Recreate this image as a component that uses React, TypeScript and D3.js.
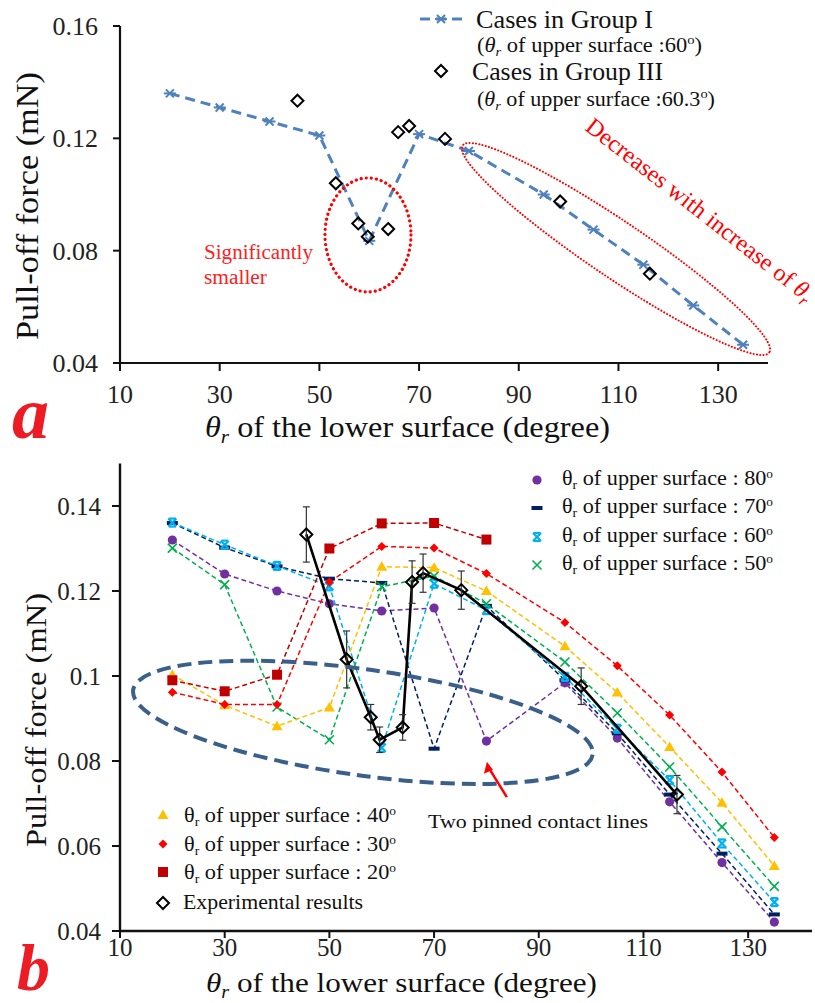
import React from "react";
import * as d3 from "d3";

const FONT = "'Liberation Serif', 'Times New Roman', serif";

// ---------- Panel a data ----------
const lowerAnglesA = [20, 30, 40, 50, 60, 70, 80, 95, 105, 115, 125, 135];
const groupI = [0.136, 0.131, 0.126, 0.121, 0.0835, 0.1215, 0.1155, 0.1, 0.0875, 0.075, 0.0605, 0.0465];
const groupIIIAngles = [45.6, 53.3, 57.8, 59.7, 63.8, 65.8, 68, 75.2, 98.3, 116.3];
const groupIIIForce = [0.1334, 0.104, 0.0897, 0.085, 0.0877, 0.1222, 0.1244, 0.1198, 0.0975, 0.0718];
const yTicksA = [0.04, 0.08, 0.12, 0.16];
const xTicks = [10, 30, 50, 70, 90, 110, 130];

// ---------- Panel b data ----------
const lowerAnglesB = [20, 30, 40, 50, 60, 70, 80, 95, 105, 115, 125, 135];
const upper80 = [0.132, 0.124, 0.12, 0.117, 0.1153, 0.116, 0.0847, 0.0984, 0.0854, 0.0704, 0.0561, 0.0421];
const upper70 = [0.136, 0.1302, 0.1258, 0.1229, 0.1219, 0.0829, 0.1165, 0.099, 0.0865, 0.0721, 0.0582, 0.0439];
const upper60 = [0.1361, 0.1309, 0.1259, 0.1211, 0.0831, 0.1217, 0.1155, 0.0998, 0.0876, 0.0755, 0.0606, 0.0468];
const upper50 = [0.1301, 0.1215, 0.0927, 0.085, 0.121, 0.1235, 0.117, 0.1033, 0.0913, 0.0786, 0.0645, 0.0505];
const upper40 = [0.1003, 0.0931, 0.0882, 0.0926, 0.1257, 0.1255, 0.12, 0.107, 0.0961, 0.0833, 0.0702, 0.0553];
const upper30 = [0.0962, 0.0933, 0.0933, 0.1221, 0.1305, 0.1301, 0.1241, 0.1126, 0.1024, 0.0908, 0.0774, 0.062];
const upper20Angles = [20, 30, 40, 50, 60, 70, 80];
const upper20 = [0.099, 0.0964, 0.1003, 0.13, 0.1359, 0.136, 0.1321];
const expAngles = [45.6, 53.3, 57.9, 59.6, 64, 65.8, 67.9, 75.2, 98.1, 116.4];
const expForce = [0.1333, 0.1039, 0.0903, 0.085, 0.0879, 0.1221, 0.1242, 0.1202, 0.0976, 0.0721];
const expError = [0.0065, 0.0067, 0.003, 0.003, 0.003, 0.005, 0.0045, 0.0045, 0.0043, 0.0045];
const yTicksB = [0.04, 0.06, 0.08, 0.1, 0.12, 0.14];
const yTickLabelsB = ["0.04", "0.06", "0.08", "0.1", "0.12", "0.14"];

const seriesB = [
  { name: "80", values: upper80, angles: lowerAnglesB, color: "#7030A0", shape: "circle" },
  { name: "70", values: upper70, angles: lowerAnglesB, color: "#002060", shape: "dash" },
  { name: "60", values: upper60, angles: lowerAnglesB, color: "#00B0F0", shape: "star" },
  { name: "50", values: upper50, angles: lowerAnglesB, color: "#00B050", shape: "x" },
  { name: "40", values: upper40, angles: lowerAnglesB, color: "#FFC000", shape: "triangle" },
  { name: "30", values: upper30, angles: lowerAnglesB, color: "#FF0000", shape: "diamond" },
  { name: "20", values: upper20, angles: upper20Angles, color: "#C00000", shape: "square" },
];

// ---------- scales ----------
const xA = d3.scaleLinear().domain([10, 140]).range([120, 768]);
const yA = d3.scaleLinear().domain([0.04, 0.16]).range([363, 26]);
const xB = d3.scaleLinear().domain([10, 140]).range([120, 800.5]);
const yB = d3.scaleLinear().domain([0.04, 0.15]).range([931, 463.5]);

function Marker({ shape, cx, cy, color }: any) {
  switch (shape) {
    case "circle":
      return <circle cx={cx} cy={cy} r={4.6} fill={color} />;
    case "dash":
      return <rect x={cx - 5.5} y={cy - 2} width={11} height={4} fill={color} />;
    case "star":
      return (
        <g stroke={color} strokeWidth={2.2}>
          <line x1={cx - 4} y1={cy - 4} x2={cx + 4} y2={cy + 4} />
          <line x1={cx - 4} y1={cy + 4} x2={cx + 4} y2={cy - 4} />
          <line x1={cx - 3.5} y1={cy - 4} x2={cx + 3.5} y2={cy - 4} />
          <line x1={cx - 3.5} y1={cy + 4} x2={cx + 3.5} y2={cy + 4} />
        </g>
      );
    case "x":
      return (
        <g stroke={color} strokeWidth={1.6}>
          <line x1={cx - 4.5} y1={cy - 4.5} x2={cx + 4.5} y2={cy + 4.5} />
          <line x1={cx - 4.5} y1={cy + 4.5} x2={cx + 4.5} y2={cy - 4.5} />
        </g>
      );
    case "triangle":
      return <path d={`M${cx},${cy - 5.5}L${cx + 5.5},${cy + 4}L${cx - 5.5},${cy + 4}Z`} fill={color} />;
    case "diamond":
      return <path d={`M${cx},${cy - 4.5}L${cx + 4.5},${cy}L${cx},${cy + 4.5}L${cx - 4.5},${cy}Z`} fill={color} />;
    case "square":
      return <rect x={cx - 5} y={cy - 5} width={10} height={10} fill={color} />;
    case "open":
      return (
        <path
          d={`M${cx},${cy - 6}L${cx + 6},${cy}L${cx},${cy + 6}L${cx - 6},${cy}Z`}
          fill="none"
          stroke="#000"
          strokeWidth={2}
        />
      );
    case "groupI":
      return (
        <g stroke={color} strokeWidth={2}>
          <line x1={cx - 4} y1={cy - 4} x2={cx + 4} y2={cy + 4} />
          <line x1={cx - 4} y1={cy + 4} x2={cx + 4} y2={cy - 4} />
          <line x1={cx - 6} y1={cy} x2={cx + 6} y2={cy} />
        </g>
      );
    default:
      return null;
  }
}

function UpperLabel({ x, y, size, value, width }: any) {
  return (
    <text x={x} y={y} fontFamily={FONT} fontSize={size} fill="#111" textLength={width} lengthAdjust="spacingAndGlyphs">
      <tspan>θ</tspan>
      <tspan fontSize={size * 0.62} dy={size * 0.2}>r</tspan>
      <tspan dy={-size * 0.2}>{` of upper surface : ${value}`}</tspan>
      <tspan fontSize={size * 0.6} dy={-size * 0.35}>o</tspan>
    </text>
  );
}

export default function App() {
  const lineA = d3
    .line<number>()
    .x((_, i) => xA(lowerAnglesA[i]))
    .y((d) => yA(d));
  const expLine = d3
    .line<number>()
    .x((_, i) => xB(expAngles[i]))
    .y((d) => yB(d));

  return (
    <svg
      width={815}
      height={1003}
      style={{ position: "absolute", left: 0, top: 0, background: "#fff" }}
      fontFamily={FONT}
    >
      {/* ================= Panel a ================= */}
      <g>
        <line x1={120} y1={yA(0.16)} x2={120} y2={yA(0.04) + 1} stroke="#111" strokeWidth={2.2} />
        <line x1={119} y1={yA(0.04)} x2={xA(140)} y2={yA(0.04)} stroke="#111" strokeWidth={2.2} />
        {yTicksA.map((t) => (
          <g key={t}>
            <line x1={113} x2={120} y1={yA(t)} y2={yA(t)} stroke="#111" strokeWidth={2} />
            <text x={98} y={yA(t)} dy="0.35em" textAnchor="end" fontSize={26} fill="#222">
              {t.toFixed(2)}
            </text>
          </g>
        ))}
        {xTicks.map((t) => (
          <g key={t}>
            <line x1={xA(t)} x2={xA(t)} y1={yA(0.04)} y2={yA(0.04) + 8} stroke="#111" strokeWidth={2} />
            <text x={xA(t)} y={403} textAnchor="middle" fontSize={26} fill="#222">
              {t}
            </text>
          </g>
        ))}
        <text
          transform={`translate(38,206) rotate(-90)`}
          textAnchor="middle"
          fontSize={31}
          fill="#111"
          textLength={268}
          lengthAdjust="spacingAndGlyphs"
        >
          Pull-off force (mN)
        </text>
        <text x={205} y={437} fontSize={29} fill="#111" textLength={405} lengthAdjust="spacingAndGlyphs">
          <tspan fontStyle="italic">θ</tspan>
          <tspan fontStyle="italic" fontSize={19} dy={6}>r</tspan>
          <tspan dy={-6}> of the lower surface (degree)</tspan>
        </text>
        <text x={12} y={438} fontSize={74} fontWeight="bold" fontStyle="italic" fill="#ED1C24">
          a
        </text>

        <path
          d={lineA(groupI) || ""}
          fill="none"
          stroke="#4F81BD"
          strokeWidth={3}
          strokeDasharray="10,6"
        />
        {groupI.map((v, i) => (
          <Marker key={i} shape="groupI" cx={xA(lowerAnglesA[i])} cy={yA(v)} color="#4F81BD" />
        ))}
        {groupIIIForce.map((v, i) => (
          <Marker key={i} shape="open" cx={xA(groupIIIAngles[i])} cy={yA(v)} />
        ))}

        <ellipse
          cx={xA(59.75)}
          cy={yA(0.0856)}
          rx={43}
          ry={57}
          fill="none"
          stroke="#FF0000"
          strokeWidth={3.2}
          strokeDasharray="0.1,5"
          strokeLinecap="round"
        />
        <text x={204} y={259} fontSize={20} fill="#FF2020" textLength={109} lengthAdjust="spacingAndGlyphs">
          Significantly
        </text>
        <text x={204} y={284} fontSize={20} fill="#FF2020" textLength={63} lengthAdjust="spacingAndGlyphs">
          smaller
        </text>
        <ellipse
          cx={0}
          cy={0}
          rx={185}
          ry={28}
          transform={`translate(${xA(109.5)},${yA(0.0806)}) rotate(34)`}
          fill="none"
          stroke="#FF0000"
          strokeWidth={2}
          strokeDasharray="0.1,3.2"
          strokeLinecap="round"
        />
        <text
          transform="translate(695,216) rotate(38)"
          textAnchor="middle"
          fontSize={24}
          fill="#FF0000"
          textLength={282}
          lengthAdjust="spacingAndGlyphs"
        >
          <tspan>Decreases with increase of </tspan>
          <tspan fontStyle="italic">θ</tspan>
          <tspan fontStyle="italic" fontSize={16} dy={5}>r</tspan>
        </text>

        {/* legend a */}
        <line x1={420} x2={462} y1={19} y2={19} stroke="#4F81BD" strokeWidth={3} strokeDasharray="10,6" />
        <Marker shape="groupI" cx={441} cy={19} color="#4F81BD" />
        <text x={476} y={28} fontSize={26} fill="#111" textLength={177} lengthAdjust="spacingAndGlyphs">
          Cases in Group I
        </text>
        <text x={477} y={52} fontSize={20} fill="#111" textLength={225} lengthAdjust="spacingAndGlyphs">
          <tspan>(</tspan>
          <tspan fontStyle="italic">θ</tspan>
          <tspan fontStyle="italic" fontSize={13} dy={4}>r</tspan>
          <tspan dy={-4}> of upper surface :60</tspan>
          <tspan fontSize={13} dy={-8}>o</tspan>
          <tspan dy={8}>)</tspan>
        </text>
        <Marker shape="open" cx={441} cy={71} />
        <text x={472} y={80} fontSize={26} fill="#111" textLength={191} lengthAdjust="spacingAndGlyphs">
          Cases in Group III
        </text>
        <text x={477} y={106} fontSize={20} fill="#111" textLength={238} lengthAdjust="spacingAndGlyphs">
          <tspan>(</tspan>
          <tspan fontStyle="italic">θ</tspan>
          <tspan fontStyle="italic" fontSize={13} dy={4}>r</tspan>
          <tspan dy={-4}> of upper surface :60.3</tspan>
          <tspan fontSize={13} dy={-8}>o</tspan>
          <tspan dy={8}>)</tspan>
        </text>
      </g>

      {/* ================= Panel b ================= */}
      <g>
        <line x1={120} y1={yB(0.15)} x2={120} y2={yB(0.04) + 1} stroke="#111" strokeWidth={2.4} />
        <line x1={119} y1={yB(0.04)} x2={812} y2={yB(0.04)} stroke="#111" strokeWidth={2.4} />
        {yTicksB.map((t, i) => (
          <g key={t}>
            <line x1={112} x2={120} y1={yB(t)} y2={yB(t)} stroke="#111" strokeWidth={2} />
            <text x={101} y={yB(t)} dy="0.35em" textAnchor="end" fontSize={25} fill="#222">
              {yTickLabelsB[i]}
            </text>
          </g>
        ))}
        {xTicks.map((t) => (
          <g key={t}>
            <line x1={xB(t)} x2={xB(t)} y1={yB(0.04)} y2={yB(0.04) + 7} stroke="#111" strokeWidth={2} />
            <text x={xB(t)} y={956} textAnchor="middle" fontSize={25} fill="#222">
              {t}
            </text>
          </g>
        ))}
        <text
          transform={`translate(46,720) rotate(-90)`}
          textAnchor="middle"
          fontSize={30}
          fill="#111"
          textLength={254}
          lengthAdjust="spacingAndGlyphs"
        >
          Pull-off force (mN)
        </text>
        <text x={206} y={992} fontSize={28} fill="#111" textLength={391} lengthAdjust="spacingAndGlyphs">
          <tspan fontStyle="italic">θ</tspan>
          <tspan fontStyle="italic" fontSize={18} dy={6}>r</tspan>
          <tspan dy={-6}> of the lower surface (degree)</tspan>
        </text>
        <text x={17} y={990} fontSize={66} fontWeight="bold" fontStyle="italic" fill="#ED1C24">
          b
        </text>

        {seriesB.map((s) => {
          const gen = d3
            .line<number>()
            .x((_, i) => xB(s.angles[i]))
            .y((d) => yB(d));
          return (
            <path
              key={s.name}
              d={gen(s.values) || ""}
              fill="none"
              stroke={s.color}
              strokeWidth={1.5}
              strokeDasharray="5,3"
            />
          );
        })}
        {seriesB.map((s) =>
          s.values.map((v, i) => (
            <Marker key={s.name + i} shape={s.shape} cx={xB(s.angles[i])} cy={yB(v)} color={s.color} />
          ))
        )}

        <path d={expLine(expForce) || ""} fill="none" stroke="#000" strokeWidth={2.6} />
        {expForce.map((v, i) => (
          <g key={i} stroke="#333" strokeWidth={1.2}>
            <line x1={xB(expAngles[i])} x2={xB(expAngles[i])} y1={yB(v + expError[i])} y2={yB(v - expError[i])} />
            <line x1={xB(expAngles[i]) - 3.5} x2={xB(expAngles[i]) + 3.5} y1={yB(v + expError[i])} y2={yB(v + expError[i])} />
            <line x1={xB(expAngles[i]) - 3.5} x2={xB(expAngles[i]) + 3.5} y1={yB(v - expError[i])} y2={yB(v - expError[i])} />
          </g>
        ))}
        {expForce.map((v, i) => (
          <Marker key={"e" + i} shape="open" cx={xB(expAngles[i])} cy={yB(v)} />
        ))}

        <ellipse
          cx={0}
          cy={0}
          rx={232}
          ry={53}
          transform={`translate(${xB(56.4)},${yB(0.0891)}) rotate(8)`}
          fill="none"
          stroke="#3A5F8B"
          strokeWidth={4}
          strokeDasharray="14,7"
        />
        <line x1={xB(83.9)} y1={yB(0.0715)} x2={xB(80.4)} y2={yB(0.0785)} stroke="#FF0000" strokeWidth={2.5} />
        <path d={`M${xB(80.1)},${yB(0.0798)} l-3,12 l9,-4 Z`} fill="#FF0000" />
        <text x={428} y={828} fontSize={19} fill="#111" textLength={220} lengthAdjust="spacingAndGlyphs">
          Two pinned contact lines
        </text>

        {[
          { s: "circle", c: "#7030A0", v: "80", y: 482 },
          { s: "dash", c: "#002060", v: "70", y: 510 },
          { s: "star", c: "#00B0F0", v: "60", y: 539 },
          { s: "x", c: "#00B050", v: "50", y: 567 },
        ].map((r) => (
          <g key={r.v}>
            <Marker shape={r.s} cx={537} cy={r.y - 2} color={r.c} />
            <UpperLabel x={562} y={r.y + 3} size={21} value={r.v} width={211} />
          </g>
        ))}
        {[
          { s: "triangle", c: "#FFC000", v: "40", y: 817 },
          { s: "diamond", c: "#FF0000", v: "30", y: 846 },
          { s: "square", c: "#C00000", v: "20", y: 874 },
        ].map((r) => (
          <g key={r.v}>
            <Marker shape={r.s} cx={163} cy={r.y - 2} color={r.c} />
            <UpperLabel x={184} y={r.y + 5} size={21} value={r.v} width={212} />
          </g>
        ))}
        <Marker shape="open" cx={163} cy={903} />
        <text x={183} y={909} fontSize={21} fill="#111" textLength={180} lengthAdjust="spacingAndGlyphs">
          Experimental results
        </text>
      </g>
    </svg>
  );
}
